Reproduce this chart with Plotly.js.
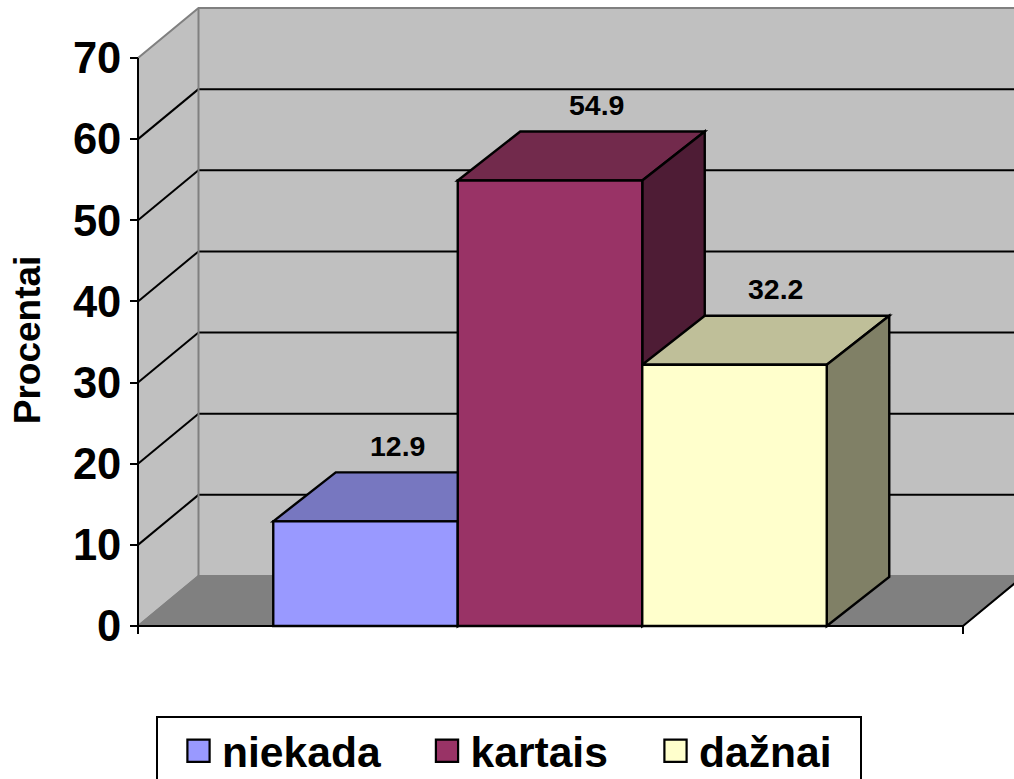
<!DOCTYPE html>
<html><head><meta charset="utf-8">
<script src="https://cdn.plot.ly/plotly-3.0.1.min.js"></script>
<style>html,body{margin:0;padding:0;background:#fff;overflow:hidden;height:779px}</style>
</head><body><div id="chart" style="width:1014px;height:779px;overflow:hidden"></div>
<script>
const seriesNames = ["niekada", "kartais", "dažnai"];
const seriesValues = [12.9, 54.9, 32.2];
const seriesPositions = [0, 1, 2];
const yTicks = [0, 10, 20, 30, 40, 50, 60, 70];
const frontColors = ["#9999FF", "#993366", "#FFFFCC"];
const topColors = ["#7777C0", "#722A4C", "#BFBF99"];
const sideColors = ["#62628F", "#4E1C35", "#808066"];
const labelShift = [-5, 10, 4];
const legendSwatchCenters = [198.5, 447, 675.5];

const W = 1014, H = 830;   // figure runs past the window so the legend box is cut by the bottom edge
const pxX = 184.5, pxY = 568 / 70;
const x0px = 365.5, y0px = 626;
const xAt = p => (p - x0px) / pxX, yAt = p => (y0px - p) / pxY;
const DX = 60.5 / pxX, DY = 50 / pxY;
const barDX = 62.5 / pxX, barDY = 49 / pxY;
const xL = xAt(138), xR = xAt(963), yTop = 70;
const half = 0.5;
const domBottomPx = 680;
const legendLeft = 156, legendTop = 716, legendWidth = 704;
const FONT = "Liberation Sans, Arial, sans-serif";

function poly(pts, fill, lineColor, lw) {
  const path = pts.map((p, i) => (i ? "L" : "M") + p[0] + "," + p[1]).join(" ") + " Z";
  return {type: "path", path, xref: "x", yref: "y", layer: "below", fillcolor: fill,
          line: {color: lineColor, width: lw}};
}
function seg(a, b, color, w) {
  return {type: "line", xref: "x", yref: "y", layer: "below", x0: a[0], y0: a[1], x1: b[0], y1: b[1],
          line: {color, width: w}};
}
const shapes = [];
shapes.push(poly([[xL, 0], [xL + DX, DY], [xR + DX, DY], [xR + DX, yTop + DY], [xL + DX, yTop + DY], [xL, yTop]], "#C0C0C0", "#808080", 2));
shapes.push(poly([[xL, 0], [xL + DX, DY], [xR + DX, DY], [xR, 0]], "#808080", "#808080", 1.5));
yTicks.slice(1, -1).forEach(v => {
  shapes.push(seg([xL, v], [xL + DX, v + DY], "#000", 2));
  shapes.push(seg([xL + DX, v + DY], [xR + DX, v + DY], "#000", 2));
});
shapes.push(seg([xL + DX, DY], [xL + DX, yTop + DY], "#808080", 2));
shapes.push(seg([xR, 0], [xR + DX, DY], "#000", 2));
seriesValues.forEach((v, i) => {
  const c = seriesPositions[i], a = c - half, b = c + half;
  shapes.push(poly([[a, v], [a + barDX, v + barDY], [b + barDX, v + barDY], [b, v]], topColors[i], "#000", 2.4));
  shapes.push(poly([[b, 0], [b + barDX, barDY], [b + barDX, v + barDY], [b, v]], sideColors[i], "#000", 2.4));
});
shapes.push(seg([xL, 0], [xL, yTop], "#000", 2));
shapes.push(seg([xL, 0], [xR, 0], "#000", 2));
[xL, xR].forEach(x => {
  shapes.push(Object.assign(seg([x, 0], [x, yAt(634)], "#000", 2), {layer: "above"}));
});

const traces = seriesNames.map((n, i) => ({
  type: "bar", name: n, x: [seriesPositions[i]], y: [seriesValues[i]], width: [1],
  marker: {color: frontColors[i], line: {color: "#000", width: 2.4}},
  hoverinfo: "name+y"
}));

const annotations = seriesValues.map((v, i) => ({
  x: seriesPositions[i] + 0.2, y: v + 9.3, xref: "x", yref: "y", text: v.toFixed(1),
  xshift: labelShift[i], showarrow: false, xanchor: "center", yanchor: "middle",
  font: {family: FONT, size: 28.5, color: "#000", weight: 700}
}));

const layout = {
  width: W, height: H, margin: {l: 0, r: 0, t: 0, b: 0, pad: 0},
  paper_bgcolor: "#fff", plot_bgcolor: "rgba(0,0,0,0)",
  barmode: "overlay", hovermode: false,
  font: {family: FONT, color: "#000"},
  xaxis: {range: [xAt(0), xAt(W)], domain: [0, 1], visible: false, fixedrange: true},
  yaxis: {
    domain: [1 - domBottomPx / H, 1], range: [yAt(domBottomPx), yAt(0)],
    anchor: "free", position: 138 / W, side: "left",
    tickmode: "array", tickvals: yTicks, ticktext: yTicks.map(String),
    ticks: "outside", ticklen: 8, tickwidth: 2, tickcolor: "#000",
    showgrid: false, zeroline: false, showline: false,
    tickfont: {size: 43.5, color: "#000", family: FONT, weight: 700},
    title: {text: "Procentai", standoff: 19, font: {size: 37, color: "#000", family: FONT, weight: 700}},
    fixedrange: true
  },
  shapes, annotations,
  showlegend: true,
  legend: {
    orientation: "h", x: legendLeft / W, y: 1 - legendTop / H, xanchor: "left", yanchor: "top",
    bgcolor: "#fff", bordercolor: "#000", borderwidth: 2,
    font: {size: 42.6, color: "#000", family: FONT, weight: 700},
    traceorder: "normal"
  }
};
Plotly.newPlot("chart", traces, layout, {displayModeBar: false, staticPlot: true}).then(gd => {
  // widen the legend: larger swatches and the reference's entry spacing
  const legend = gd.querySelector(".legend");
  legend.querySelectorAll(".bg").forEach(r => r.setAttribute("width", legendWidth));
  document.querySelectorAll("clipPath[id*='legend'] rect").forEach(r => r.setAttribute("width", legendWidth));
  legend.querySelectorAll(".traces").forEach((g, i) => {
    const m = /translate\(([-\d.]+),\s*([-\d.]+)\)/.exec(g.getAttribute("transform") || "");
    const ty = m ? parseFloat(m[2]) : 0;
    g.setAttribute("transform", `translate(${legendSwatchCenters[i] - legendLeft - 20},${ty - 1.5})`);
    g.querySelectorAll(".legendpoints path").forEach(p => {
      const t = p.getAttribute("transform") || "";
      p.setAttribute("transform", t + " scale(1.85)");
      p.style.strokeWidth = "1.2px";
      p.style.stroke = "#000";
    });
    g.querySelectorAll("text.legendtext").forEach(t => {
      t.setAttribute("x", parseFloat(t.getAttribute("x")) + 3.5);
    });
  });
});
</script></body></html>
